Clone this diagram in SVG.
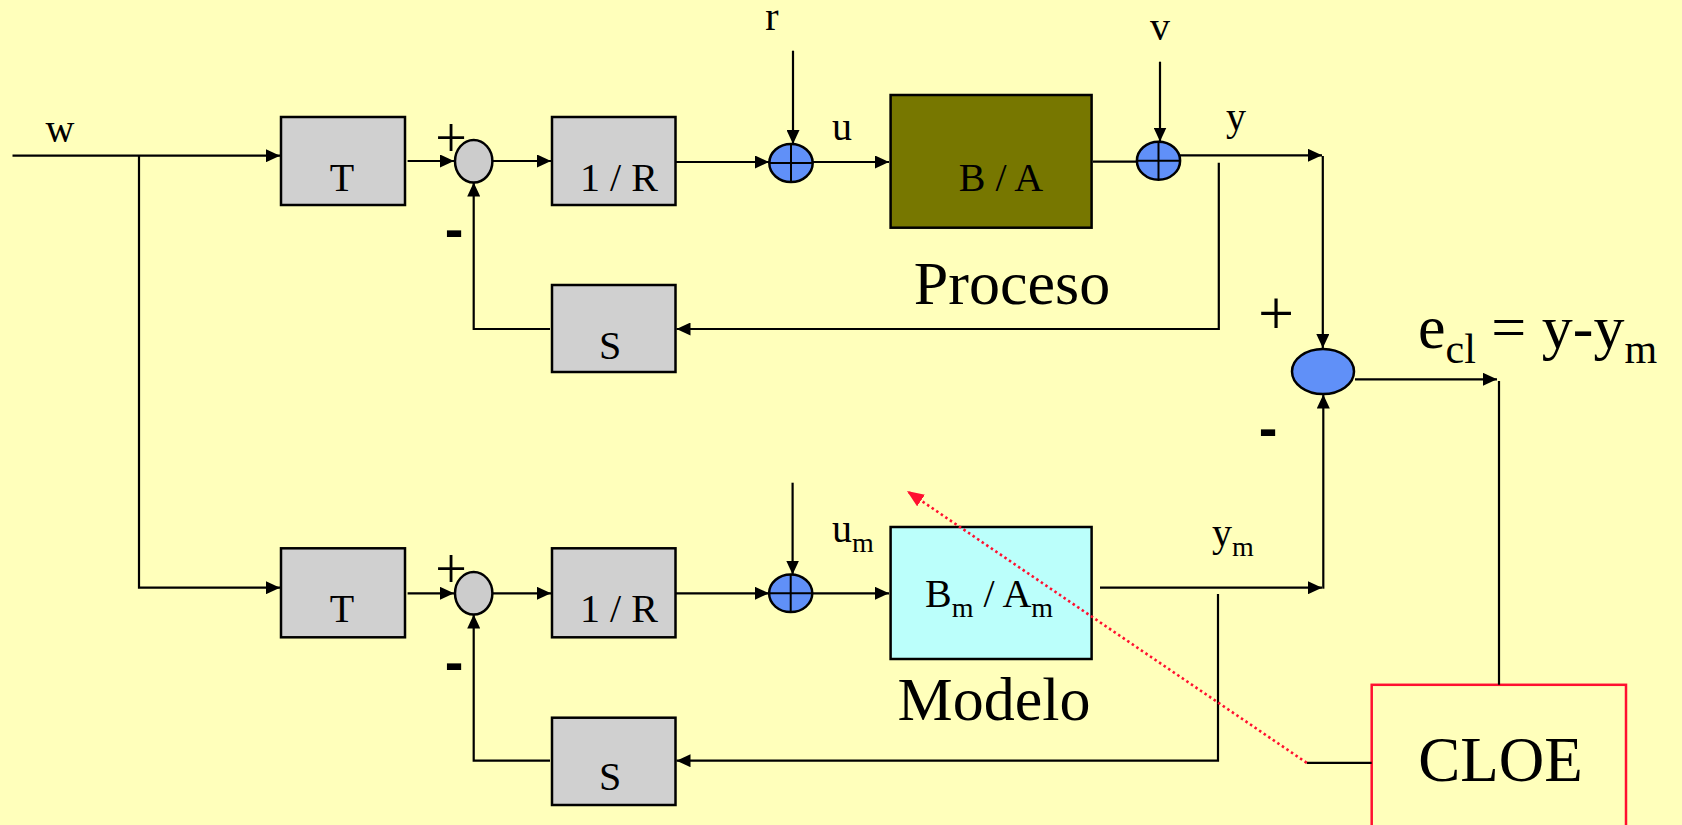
<svg xmlns="http://www.w3.org/2000/svg" width="1682" height="825" viewBox="0 0 1682 825">
<defs>
<marker id="ah" markerUnits="userSpaceOnUse" markerWidth="15" markerHeight="13" refX="14" refY="6.5" orient="auto"><path d="M0,0 L14,6.5 L0,13 z" fill="#000"/></marker>
<marker id="ahr" markerUnits="userSpaceOnUse" markerWidth="18" markerHeight="14" refX="17" refY="7" orient="auto"><path d="M0,0 L17,7 L0,14 z" fill="#ff1030"/></marker>
<style>
.blk{fill:#d0d0d0;stroke:#000;stroke-width:2.5}
.gsum{fill:#cccccc;stroke:#000;stroke-width:2.5}
.bsum{fill:#6090f8;stroke:#000;stroke-width:2.5}
.cross{stroke:#000;stroke-width:2}
.ln{fill:none;stroke:#000;stroke-width:2.2}
.arr{fill:none;stroke:#000;stroke-width:2.2;marker-end:url(#ah)}
.t{font-family:"Liberation Serif","Times New Roman",serif;fill:#000}
.lab{font-size:40px}
.big{font-size:62px}
.mid{text-anchor:middle}
.minus{font-family:"Liberation Sans",Arial,sans-serif;font-weight:bold;font-size:56px;text-anchor:middle}
</style>
</defs>
<rect x="0" y="0" width="1682" height="825" fill="#ffffbb"/>

<g id="w-label"><text class="t lab mid" x="60" y="141.7">w</text></g>

<g id="T-top"><rect class="blk" x="281" y="117" width="124" height="88"/><text class="t lab mid" x="342" y="191">T</text></g>
<g id="sum-grey-top"><ellipse class="gsum" cx="473.7" cy="161.3" rx="18.7" ry="21.3"/>
<text class="t mid" style="font-size:56px" x="451" y="157">+</text>
<text class="t minus" x="454" y="248">-</text></g>
<g id="invR-top"><rect class="blk" x="552" y="117" width="123.5" height="88"/><text class="t lab mid" x="619" y="191">1 / R</text></g>
<g id="S-top"><rect class="blk" x="552" y="285" width="123.5" height="87"/><text class="t lab mid" x="610" y="359">S</text></g>

<g id="r-label"><text class="t lab mid" x="772" y="30">r</text></g>
<g id="sum-r"><ellipse class="bsum" cx="791" cy="163" rx="21.7" ry="19"/><path class="cross" d="M769.3 163 H812.7 M791 144 V182"/></g>
<g id="u-label"><text class="t lab mid" x="842" y="140">u</text></g>
<g id="process"><rect x="890.6" y="95" width="201" height="132.7" fill="#777700" stroke="#000" stroke-width="2.5"/><text class="t lab mid" x="1001" y="190.7">B / A</text></g>
<g id="proceso-label"><text class="t big mid" x="1012" y="304">Proceso</text></g>
<g id="v-label"><text class="t lab mid" x="1160" y="40">v</text></g>
<g id="sum-v"><ellipse class="bsum" cx="1158.5" cy="160.7" rx="21.6" ry="19"/><path class="cross" d="M1136.9 160.7 H1180.1 M1158.5 141.7 V179.7"/></g>
<g id="y-label"><text class="t lab mid" x="1236" y="130">y</text></g>

<g id="sum-err"><ellipse class="bsum" cx="1323" cy="371.5" rx="31" ry="22.5"/>
<text class="t mid" style="font-size:64px" x="1276" y="334.7">+</text>
<text class="t minus" x="1268" y="447">-</text></g>
<g id="ecl-label"><text class="t big" x="1418" y="348.3">e<tspan style="font-size:42px" dy="15">cl</tspan><tspan dy="-15"> = y-y</tspan><tspan style="font-size:42px" dy="15">m</tspan></text></g>

<g id="T-bot"><rect class="blk" x="281" y="548.3" width="124" height="89"/><text class="t lab mid" x="342" y="622.3">T</text></g>
<g id="sum-grey-bot"><ellipse class="gsum" cx="473.7" cy="593.3" rx="18.7" ry="21.3"/>
<text class="t mid" style="font-size:56px" x="451" y="588.2">+</text>
<text class="t minus" x="454" y="680.7">-</text></g>
<g id="invR-bot"><rect class="blk" x="552" y="548.3" width="123.5" height="89"/><text class="t lab mid" x="619" y="622.3">1 / R</text></g>
<g id="S-bot"><rect class="blk" x="552" y="717.7" width="123.5" height="87.3"/><text class="t lab mid" x="610" y="790">S</text></g>

<g id="sum-bot"><ellipse class="bsum" cx="790.7" cy="593.3" rx="21.6" ry="18.8"/><path class="cross" d="M769.1 593.3 H812.3 M790.7 574.5 V612.1"/></g>
<g id="um-label"><text class="t lab" x="832" y="541.7">u<tspan style="font-size:28px" dy="10">m</tspan></text></g>
<g id="model"><rect x="890.6" y="527" width="201" height="132" fill="#bbfffb" stroke="#000" stroke-width="2.5"/><text class="t lab" x="925" y="606.7">B<tspan style="font-size:28px" dy="10">m</tspan><tspan dy="-10"> / A</tspan><tspan style="font-size:28px" dy="10">m</tspan></text></g>
<g id="modelo-label"><text class="t big mid" x="994" y="720">Modelo</text></g>
<g id="ym-label"><text class="t lab" x="1212" y="546">y<tspan style="font-size:28px" dy="10">m</tspan></text></g>

<g id="cloe"><rect x="1371.7" y="684.8" width="254.3" height="160" fill="none" stroke="#ff1030" stroke-width="2.5"/><text class="t mid" style="font-size:63px" x="1500.5" y="781">CLOE</text></g>

<g id="connectors">
<path class="arr" d="M12.5 155.7 H280"/>
<path class="arr" d="M139 155.7 V587.7 H280"/>
<path class="arr" d="M407.6 161 H454"/>
<path class="arr" d="M493 161 H551"/>
<path class="arr" d="M676 162 H769"/>
<path class="arr" d="M793 50.7 V144"/>
<path class="arr" d="M812.7 162 H889"/>
<path class="ln" d="M1093 161.7 H1137.5"/>
<path class="arr" d="M1160 61.7 V141.5"/>
<path class="arr" d="M1180 155.3 H1322"/>
<path class="arr" d="M1322.8 156 V348"/>
<path class="arr" d="M1218.8 162.7 V329 H676.5"/>
<path class="arr" d="M550 329 H473.7 V182.5"/>

<path class="arr" d="M407.6 593.3 H454"/>
<path class="arr" d="M493 593.3 H551"/>
<path class="arr" d="M676 593.3 H769"/>
<path class="arr" d="M792.6 482.7 V574.5"/>
<path class="arr" d="M812.9 593.3 H889"/>
<path class="arr" d="M1100 587.7 H1322"/>
<path class="arr" d="M1323.3 588.7 V394.5"/>
<path class="arr" d="M1218 594 V760.7 H676.5"/>
<path class="arr" d="M550 760.7 H473.7 V614.5"/>

<path class="arr" d="M1355 379.3 H1497"/>
<path class="ln" d="M1499 381 V684.8"/>
<path class="ln" d="M1371.7 762.8 H1306.7"/>
<path d="M1306.7 762.8 L907 491" fill="none" stroke="#ff1030" stroke-width="2.6" stroke-dasharray="2.5 3" marker-end="url(#ahr)"/>
</g>
</svg>
